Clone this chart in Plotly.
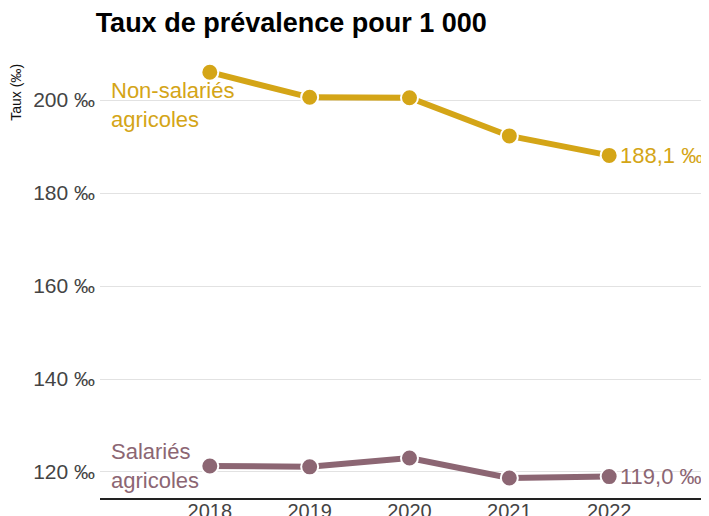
import plotly.graph_objects as go

years = [2018, 2019, 2020, 2021, 2022]
non_salaries = [206.0, 200.6, 200.5, 192.3, 188.1]
salaries = [121.3, 121.1, 123.0, 118.7, 119.0]
y_ticks = [120, 140, 160, 180, 200]
y_tick_labels = [f"{v} ‰" for v in y_ticks]

gold = '#D4A517'
mauve = '#8C6673'
font = 'Liberation Sans, Arial, sans-serif'

fig = go.Figure()

series = [
    (non_salaries, gold, 'Non-salariés<br>agricoles', -33),
    (salaries, mauve, 'Salariés<br>agricoles', 0),
]
for vals, color, label, yshift in series:
    fig.add_trace(go.Scatter(
        x=years, y=vals,
        mode='lines+markers',
        line=dict(color=color, width=6),
        marker=dict(size=17, color=color, line=dict(color='white', width=2)),
        showlegend=False,
        hoverinfo='skip'
    ))
    # value label at last point
    fig.add_annotation(
        x=years[-1], y=vals[-1], xanchor='left', yanchor='middle', xshift=9,
        text=f"{vals[-1]:.1f} ‰".replace('.', ','), showarrow=False,
        font=dict(color=color, size=22, family=font)
    )
    # series name near the first point
    fig.add_annotation(
        x=years[0], y=vals[0], xanchor='left', yanchor='middle',
        xshift=-101, yshift=yshift,
        text=label, showarrow=False, align='left',
        font=dict(color=color, size=22, family=font)
    )

fig.add_annotation(
    xref='paper', yref='paper', x=-0.137, y=0.985, xanchor='center', yanchor='top',
    text='Taux (‰)', textangle=-90, showarrow=False,
    font=dict(size=14, color='#111', family=font)
)

# page body adds an 8px margin, so the figure is 8px smaller on each axis
fig.update_layout(
    width=701, height=508,
    title=dict(text='<b>Taux de prévalence pour 1 000</b>', x=0.125, xanchor='left',
               y=0.972, yanchor='middle',
               font=dict(size=27, color='black', family=font)),
    paper_bgcolor='white',
    plot_bgcolor='white',
    margin=dict(l=92, r=0, t=47, b=18),
    font=dict(family=font),
    xaxis=dict(
        range=[2016.9, 2023.0], tickvals=years, ticktext=[str(y) for y in years],
        showgrid=False, zeroline=False, automargin=False,
        showline=True, linecolor='#222', linewidth=1.5,
        tickfont=dict(size=20, color='#444'), ticks='', ticklabelstandoff=-6
    ),
    yaxis=dict(
        range=[114.4, 209.7], tickvals=y_ticks, ticktext=y_tick_labels,
        showgrid=True, gridcolor='#e2e2e2', gridwidth=1, zeroline=False,
        automargin=False,
        tickfont=dict(size=21, color='#444'), ticks='', ticklabelstandoff=4
    )
)

fig.write_html("out.html")
